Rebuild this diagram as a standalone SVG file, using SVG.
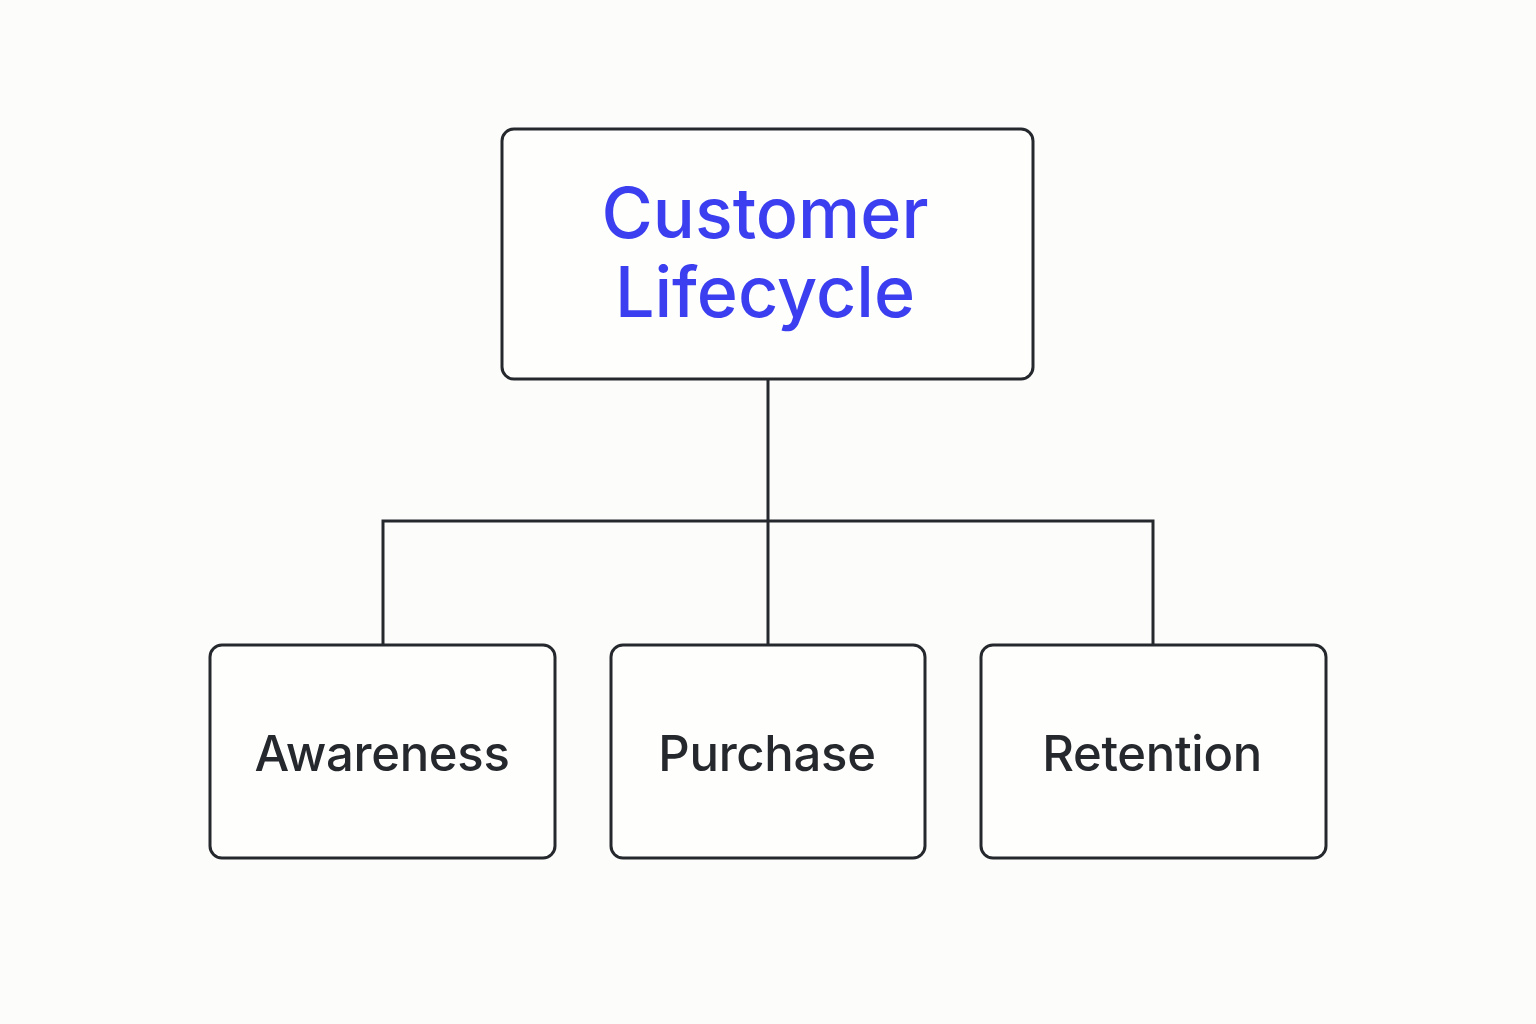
<svg xmlns="http://www.w3.org/2000/svg" width="1536" height="1024" viewBox="0 0 1536 1024">
<style>
.box{fill:#fefefd;stroke:#25282d;stroke-width:3}
.conn{fill:none;stroke:#25282d;stroke-width:3}
.title{font-family:Inter,"Noto Sans",sans-serif;font-size:70px;font-weight:500;fill:#3c3ff0;text-anchor:middle}
.label{font-family:Inter,"Noto Sans",sans-serif;font-size:49px;font-weight:500;fill:#25282d;text-anchor:middle;letter-spacing:-0.3px}
</style>
<rect width="1536" height="1024" fill="#fcfcfa"/>
<g id="connectors">
<path class="conn" d="M768 379 V645 M383 645 V521 H1153 V645"/>
</g>
<g id="node-customer-lifecycle">
<rect class="box" x="502" y="129" width="531" height="250" rx="12"/>
<text class="title" x="765" y="238">Customer</text>
<text class="title" x="765" y="317">Lifecycle</text>
</g>
<g id="node-awareness">
<rect class="box" x="210" y="645" width="345" height="213" rx="12"/>
<text class="label" x="382" y="771">Awareness</text>
</g>
<g id="node-purchase">
<rect class="box" x="611" y="645" width="314" height="213" rx="12"/>
<text class="label" x="767" y="771">Purchase</text>
</g>
<g id="node-retention">
<rect class="box" x="981" y="645" width="345" height="213" rx="12"/>
<text class="label" x="1152" y="771">Retention</text>
</g>
</svg>
